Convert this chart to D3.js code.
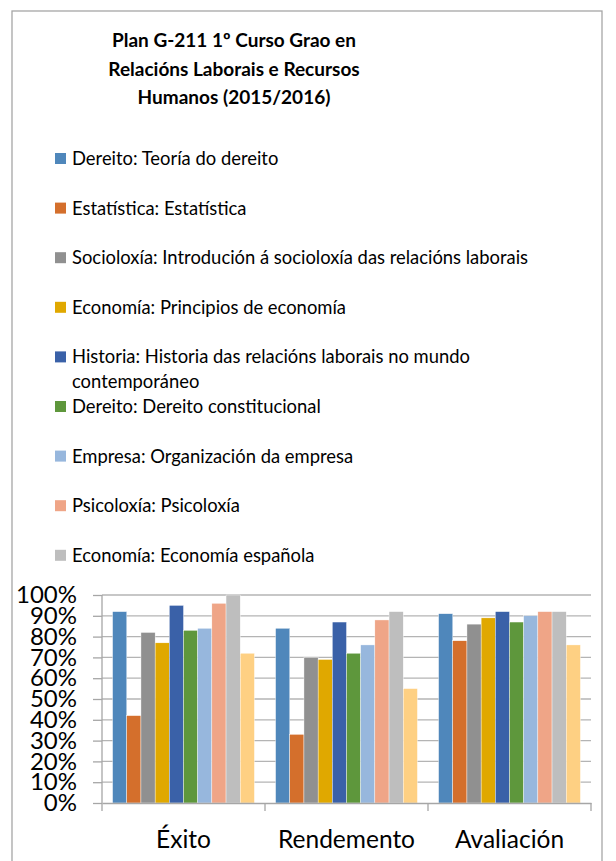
<!DOCTYPE html>
<html>
<head>
<meta charset="utf-8">
<script src="https://cdn.jsdelivr.net/npm/d3@7"></script>
<style>
  body { margin: 0; background: #fff; }
  svg text { font-family: Lato, "Open Sans", sans-serif; fill: #000; }
</style>
</head>
<body>
<div id="chart"></div>
<script>
const width = 616;
const height = 861;

const titleLines = ["Plan G-211 1º Curso Grao en", "Relacións Laborais e Recursos", "Humanos (2015/2016)"];
const categories = ["Éxito", "Rendemento", "Avaliación"];
const seriesNames = [
    "Dereito: Teoría do dereito",
    "Estatística: Estatística",
    "Socioloxía: Introdución á socioloxía das relacións laborais",
    "Economía: Principios de economía",
    "Historia: Historia das relacións laborais no mundo contemporáneo",
    "Dereito: Dereito constitucional",
    "Empresa: Organización da empresa",
    "Psicoloxía: Psicoloxía",
    "Economía: Economía española",
    ""  // tenth series, its legend entry is cut off in the original
];
const colors = ["#4F87BB", "#D46F2C", "#909090", "#E0A800", "#3A61A8", "#5E973C", "#97B7DD", "#EFA587", "#BEBEBE", "#FED083"];
// one array per series: values for Éxito, Rendemento, Avaliación
const values = [
    [0.92, 0.84, 0.91],
    [0.42, 0.33, 0.78],
    [0.82, 0.70, 0.86],
    [0.77, 0.69, 0.89],
    [0.95, 0.87, 0.92],
    [0.83, 0.72, 0.87],
    [0.84, 0.76, 0.90],
    [0.96, 0.88, 0.92],
    [1.00, 0.92, 0.92],
    [0.72, 0.55, 0.76]
];
const yTicks = [0, 0.1, 0.2, 0.3, 0.4, 0.5, 0.6, 0.7, 0.8, 0.9, 1.0];

const svg = d3.select("#chart")
    .append("svg")
    .attr("width", width)
    .attr("height", height);

// outer chart frame (runs off the bottom of the picture)
svg.append("rect")
    .attr("x", 12).attr("y", 11)
    .attr("width", 590).attr("height", 900)
    .attr("fill", "#fff")
    .attr("stroke", "#A6A6A6")
    .attr("stroke-width", 1.3);

// title
svg.append("g").selectAll("text")
    .data(titleLines)
    .enter().append("text")
    .attr("x", 234)
    .attr("y", (d, i) => 47 + i * 28.5)
    .attr("text-anchor", "middle")
    .style("font-size", "19px")
    .style("font-weight", "bold")
    .text(d => d);

// legend: fixed slots, a long entry wraps inside its slot
const legendItems = seriesNames.map((name, i) => ({ name, color: colors[i] })).filter(d => d.name);
const legendWidth = 480;
const legend = svg.append("g").attr("transform", "translate(55, 165)");
const item = legend.selectAll("g")
    .data(legendItems)
    .enter().append("g")
    .attr("transform", (d, i) => `translate(0, ${i * 49.6})`);
item.append("rect")
    .attr("x", 0).attr("y", -12)
    .attr("width", 11).attr("height", 11)
    .attr("fill", d => d.color);
item.append("text")
    .attr("x", 17)
    .style("font-size", "18.4px")
    .each(function(d) {
        const text = d3.select(this);
        const words = d.name.split(" ");
        let line = [];
        let tspan = text.append("tspan").attr("x", 17).attr("dy", 0);
        words.forEach(w => {
            line.push(w);
            tspan.text(line.join(" "));
            if (tspan.node().getComputedTextLength() > legendWidth && line.length > 1) {
                line.pop();
                tspan.text(line.join(" "));
                line = [w];
                tspan = text.append("tspan").attr("x", 17).attr("dy", 25).text(w);
            }
        });
    });

// plot
const x = d3.scaleBand()
    .domain(categories)
    .range([102, 591])
    .paddingInner(0.13)
    .paddingOuter(0.065);

const xInner = d3.scaleBand()
    .domain(d3.range(values.length))
    .range([0, x.bandwidth()]);

const y = d3.scaleLinear()
    .domain([0, 1])
    .range([803, 595]);

// gridlines
svg.append("g")
    .selectAll("line")
    .data(yTicks.slice(1))
    .enter().append("line")
    .attr("x1", 102).attr("x2", 591)
    .attr("y1", d => y(d)).attr("y2", d => y(d))
    .attr("stroke", "#B4B4B4")
    .attr("stroke-width", 1.3);

// y axis
const yAxis = svg.append("g")
    .attr("transform", "translate(102, 0)")
    .call(d3.axisLeft(y).tickValues(yTicks).tickFormat(d3.format(".0%")).tickSize(9).tickPadding(16));
yAxis.selectAll("line, path").attr("stroke", "#A6A6A6").attr("stroke-width", 1.3);
yAxis.select(".domain").attr("d", `M0,${y(1)}V${y(0)}`);
yAxis.selectAll("text").style("font-size", "24px").attr("fill", "#000");

// bars
svg.append("g")
    .selectAll("g")
    .data(values)
    .enter().append("g")
    .attr("fill", (d, i) => colors[i])
    .selectAll("rect")
    .data((d, i) => d.map((v, j) => ({ v, cat: categories[j], s: i })))
    .enter().append("rect")
    .attr("x", d => x(d.cat) + xInner(d.s))
    .attr("y", d => y(d.v))
    .attr("width", xInner.bandwidth())
    .attr("height", d => y(0) - y(d.v))
    .attr("stroke", "#fff")
    .attr("stroke-width", 0.4);

// x axis
const xAxis = svg.append("g")
    .attr("transform", `translate(0, ${y(0)})`)
    .call(d3.axisBottom(x).tickSize(0).tickPadding(28));
xAxis.select(".domain").attr("stroke", "#A6A6A6").attr("stroke-width", 1.3);
xAxis.selectAll("text").style("font-size", "24.5px").attr("fill", "#000");
xAxis.selectAll(".boundary")
    .data(d3.range(categories.length + 1))
    .enter().append("line")
    .attr("class", "boundary")
    .attr("x1", i => x.range()[0] + i * x.step())
    .attr("x2", i => x.range()[0] + i * x.step())
    .attr("y1", 0).attr("y2", 8)
    .attr("stroke", "#A6A6A6")
    .attr("stroke-width", 1.3);
</script>
</body>
</html>
